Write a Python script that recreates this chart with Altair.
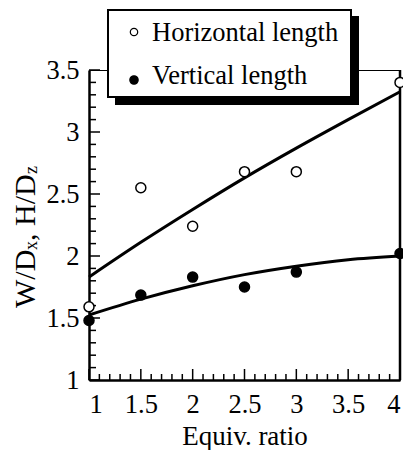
import altair as alt
import pandas as pd

# ---- data ----
ratio = [1, 1.5, 2, 2.5, 3, 4]
horizontal = [1.59, 2.55, 2.24, 2.68, 2.68, 3.40]
vertical = [1.48, 1.685, 1.83, 1.75, 1.87, 2.02]

fit_x = [1, 1.5, 2, 2.5, 3, 3.5, 4]
fit_horizontal = [1.83, 2.11, 2.375, 2.63, 2.87, 3.10, 3.325]
fit_vertical = [1.524, 1.652, 1.76, 1.85, 1.918, 1.97, 2.0]

series_names = ["Horizontal length", "Vertical length"]
series_fill = ["white", "black"]

x_major = [1, 1.5, 2, 2.5, 3, 3.5, 4]
x_minor = [1.1, 1.2, 1.3, 1.4, 1.6, 1.7, 1.8, 1.9, 2.1, 2.2, 2.3, 2.4,
           2.6, 2.7, 2.8, 2.9, 3.1, 3.2, 3.3, 3.4, 3.6, 3.7, 3.8, 3.9]
y_major = [1, 1.5, 2, 2.5, 3, 3.5]
y_minor = [1.1, 1.2, 1.3, 1.4, 1.6, 1.7, 1.8, 1.9, 2.1, 2.2, 2.3, 2.4,
           2.6, 2.7, 2.8, 2.9, 3.1, 3.2, 3.3, 3.4]

x_title = "Equiv. ratio"
y_title_parts = ["W/D", "x", ", H/D", "z"]

FONT = "Liberation Serif"
W, H = 311, 310

pts = pd.DataFrame({
    "x": ratio * 2,
    "y": horizontal + vertical,
    "series": [series_names[0]] * len(ratio) + [series_names[1]] * len(ratio),
})
fits = pd.DataFrame({
    "x": fit_x * 2,
    "y": fit_horizontal + fit_vertical,
    "series": [series_names[0]] * len(fit_x) + [series_names[1]] * len(fit_x),
})

xs = alt.Scale(domain=[1, 4], nice=False, zero=False)
ys = alt.Scale(domain=[1, 3.5], nice=False, zero=False)
fill_scale = alt.Scale(domain=series_names, range=series_fill)

x_axis = alt.Axis(values=x_major, format="~g", ticks=False, grid=False,
                  domainWidth=2.5, domainColor="black", labelPadding=11,
                  labelFont=FONT, labelFontSize=26.5, labelColor="black",
                  title=x_title, titleFont=FONT, titleFontSize=27,
                  titleFontWeight="normal", titleColor="black",
                  titleBaseline="alphabetic", titleY=64)
y_axis = alt.Axis(values=y_major, format="~g", ticks=False, grid=False,
                  domainWidth=2.5, domainColor="black", labelPadding=10,
                  labelFont=FONT, labelFontSize=26.5, labelColor="black",
                  title=None)

one = pd.DataFrame({"a": [0]})

# ---- legend frame (box with drop shadow) ----
shadow = alt.Chart(one).mark_rect(color="black").encode(
    x=alt.value(26), x2=alt.value(270), y=alt.value(-54), y2=alt.value(35)
)
box = alt.Chart(one).mark_rect(fill="white", stroke="black",
                               strokeWidth=2).encode(
    x=alt.value(19), x2=alt.value(262), y=alt.value(-60), y2=alt.value(27)
)

legend_layers = []
row_sym_y = [-38, 10]
row_txt_y = [-29, 14]
sym_size = [55, 70]
for i, name in enumerate(series_names):
    d = pd.DataFrame({"series": [name]})
    legend_layers.append(
        alt.Chart(d).mark_point(shape="circle", filled=True,
                                size=sym_size[i], stroke="black",
                                strokeWidth=1.2, opacity=1).encode(
            x=alt.value(45), y=alt.value(row_sym_y[i]),
            fill=alt.Fill("series:N", scale=fill_scale, legend=None))
    )
    legend_layers.append(
        alt.Chart(d).mark_text(font=FONT, fontSize=26.5, color="black",
                               align="left", baseline="alphabetic").encode(
            x=alt.value(63), y=alt.value(row_txt_y[i]),
            text="series:N")
    )

lines = alt.Chart(fits).mark_line(color="black", strokeWidth=3,
                                  interpolate="monotone").encode(
    x=alt.X("x:Q", scale=xs, axis=x_axis),
    y=alt.Y("y:Q", scale=ys, axis=y_axis),
    detail="series:N",
)

points = alt.Chart(pts).mark_point(shape="circle", filled=True, size=100,
                                   stroke="black", strokeWidth=1.5,
                                   opacity=1).encode(
    x=alt.X("x:Q", scale=xs),
    y=alt.Y("y:Q", scale=ys),
    fill=alt.Fill("series:N", scale=fill_scale, legend=None),
)

ymaj = alt.Chart(pd.DataFrame({"y": y_major})).mark_rule(
    color="black", strokeWidth=1.5).encode(
    y=alt.Y("y:Q", scale=ys), x=alt.value(0), x2=alt.value(11))
ymin = alt.Chart(pd.DataFrame({"y": y_minor})).mark_rule(
    color="black", strokeWidth=1.5).encode(
    y=alt.Y("y:Q", scale=ys), x=alt.value(0), x2=alt.value(7))
xmaj = alt.Chart(pd.DataFrame({"x": x_major})).mark_rule(
    color="black", strokeWidth=1.5).encode(
    x=alt.X("x:Q", scale=xs), y=alt.value(H), y2=alt.value(H - 11))
xmin = alt.Chart(pd.DataFrame({"x": x_minor})).mark_rule(
    color="black", strokeWidth=1.5).encode(
    x=alt.X("x:Q", scale=xs), y=alt.value(H), y2=alt.value(H - 6))

right = alt.Chart(one).mark_rule(color="black", strokeWidth=2.5).encode(
    x=alt.value(W), y=alt.value(0), y2=alt.value(H))

def title_piece(text, size, xpos, ypos):
    return alt.Chart(one).mark_text(
        text=text, font=FONT, fontSize=size, color="black", angle=270,
        align="left", baseline="alphabetic").encode(
        x=alt.value(xpos), y=alt.value(ypos))

ytitle = [
    title_piece(y_title_parts[0], 30, -54, 238),
    title_piece(y_title_parts[1], 18, -52, 180),
    title_piece(y_title_parts[2], 30, -54, 171),
    title_piece(y_title_parts[3], 18, -52, 104),
]

chart = alt.layer(lines, ymaj, ymin, xmaj, xmin, right, points,
                  shadow, box, *legend_layers, *ytitle).properties(
    width=W, height=H,
    autosize="none",
    padding={"left": 89, "top": 70, "right": 3, "bottom": 70},
).configure_view(stroke="black", strokeWidth=1)

chart.save("out.html", embed_options={"renderer": "svg", "actions": False})
